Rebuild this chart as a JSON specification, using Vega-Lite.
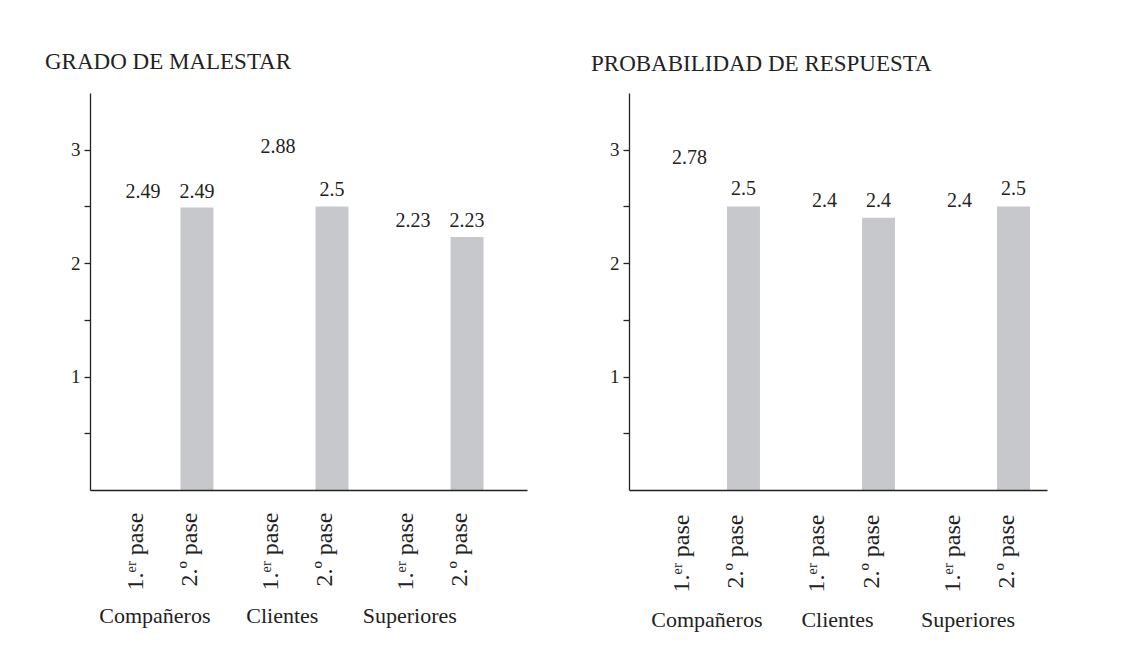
{
  "$schema": "https://vega.github.io/schema/vega-lite/v6.json",
  "background": "white",
  "padding": {"left": 45, "top": 51, "right": 5, "bottom": 5},
  "autosize": {"type": "pad"},
  "datasets": {
    "malestar": [
      {"grupo": "Compañeros", "pase": "1.ᵉʳ pase", "valor": 2.49},
      {"grupo": "Compañeros", "pase": "2.º pase", "valor": 2.49},
      {"grupo": "Clientes", "pase": "1.ᵉʳ pase", "valor": 2.88},
      {"grupo": "Clientes", "pase": "2.º pase", "valor": 2.5},
      {"grupo": "Superiores", "pase": "1.ᵉʳ pase", "valor": 2.23},
      {"grupo": "Superiores", "pase": "2.º pase", "valor": 2.23}
    ],
    "respuesta": [
      {"grupo": "Compañeros", "pase": "1.ᵉʳ pase", "valor": 2.78},
      {"grupo": "Compañeros", "pase": "2.º pase", "valor": 2.5},
      {"grupo": "Clientes", "pase": "1.ᵉʳ pase", "valor": 2.4},
      {"grupo": "Clientes", "pase": "2.º pase", "valor": 2.4},
      {"grupo": "Superiores", "pase": "1.ᵉʳ pase", "valor": 2.4},
      {"grupo": "Superiores", "pase": "2.º pase", "valor": 2.5}
    ]
  },
  "config": {
    "font": "Liberation Serif",
    "view": {"stroke": null},
    "axis": {"domainColor": "#222222", "tickColor": "#222222", "labelColor": "#222222", "labelFont": "Liberation Serif", "grid": false, "domainWidth": 1.3, "tickWidth": 1.3},
    "title": {"font": "Liberation Serif", "fontWeight": "normal", "fontSize": 23, "color": "#222222", "anchor": "start", "frame": "group"},
    "text": {"font": "Liberation Serif", "color": "#222222"}
  },
  "spacing": 64,
  "hconcat": [
    {
      "title": {"text": "GRADO DE MALESTAR", "dx": -45, "offset": 19},
      "width": 437,
      "height": 397,
      "data": {"name": "malestar"},
      "transform": [{"calculate": "datum.grupo + '|' + datum.pase", "as": "clave"}],
      "resolve": {"scale": {"x": "independent"}, "axis": {"x": "independent"}},
      "layer": [
        {
          "encoding": {
            "x": {
              "field": "clave", "type": "nominal", "sort": null,
              "scale": {
                "type": "band",
                "domain": ["_a", "Compañeros|1.ᵉʳ pase", "_1", "Compañeros|2.º pase", "_2", "_3", "Clientes|1.ᵉʳ pase", "_4", "Clientes|2.º pase", "_5", "_6", "Superiores|1.ᵉʳ pase", "_7", "Superiores|2.º pase", "_b"],
                "paddingInner": 0, "paddingOuter": 0.59, "align": 0.39
              },
              "axis": {"title": null, "ticks": false, "labelAngle": 270, "labelPadding": 22, "labelFontSize": 24, "labelOffset": -7, "zindex": 1,
                "labelExpr": "indexof(datum.value, '|') > 0 ? split(datum.value, '|')[1] : ''"}
            },
            "y": {
              "field": "valor", "type": "quantitative",
              "scale": {"domain": [0, 3.5], "nice": false},
              "axis": {"title": null, "values": [0.5, 1, 1.5, 2, 2.5, 3], "labelExpr": "datum.value % 1 === 0 ? format(datum.value, 'd') : ''", "tickSize": 6, "labelPadding": 4, "labelFontSize": 19, "zindex": 1}
            }
          },
          "layer": [
            {
              "mark": {"type": "bar", "width": {"band": 1.22}},
              "encoding": {"color": {"field": "pase", "type": "nominal", "scale": {"domain": ["1.ᵉʳ pase", "2.º pase"], "range": ["#ffffff", "#c6c8cc"]}, "legend": null}}
            },
            {
              "mark": {"type": "text", "baseline": "alphabetic", "dy": -10, "fontSize": 20},
              "encoding": {"text": {"field": "valor", "type": "quantitative"}}
            }
          ]
        },
        {
          "mark": {"type": "text", "opacity": 0},
          "encoding": {
            "x": {
              "field": "grupo", "type": "nominal", "sort": ["Compañeros", "Clientes", "Superiores"],
              "scale": {"type": "band", "paddingInner": 0, "paddingOuter": 0.214, "align": 0.02},
              "axis": {"orient": "bottom", "title": null, "ticks": false, "domain": false, "labelAngle": 0, "labelFontSize": 22, "offset": 115, "labelPadding": 0}
            },
            "y": {"field": "valor", "type": "quantitative"},
            "text": {"value": "x"}
          }
        }
      ]
    },
    {
      "title": {"text": "PROBABILIDAD DE RESPUESTA", "dx": -38, "offset": 17},
      "width": 418,
      "height": 397,
      "data": {"name": "respuesta"},
      "transform": [{"calculate": "datum.grupo + '|' + datum.pase", "as": "clave"}],
      "resolve": {"scale": {"x": "independent"}, "axis": {"x": "independent"}},
      "layer": [
        {
          "encoding": {
            "x": {
              "field": "clave", "type": "nominal", "sort": null,
              "scale": {
                "type": "band",
                "domain": ["_a", "Compañeros|1.ᵉʳ pase", "_1", "Compañeros|2.º pase", "_2", "_3", "Clientes|1.ᵉʳ pase", "_4", "Clientes|2.º pase", "_5", "_6", "Superiores|1.ᵉʳ pase", "_7", "Superiores|2.º pase"],
                "paddingInner": 0, "paddingOuter": 0.74, "align": 0.5
              },
              "axis": {"title": null, "ticks": false, "labelAngle": 270, "labelPadding": 24, "labelFontSize": 24, "labelOffset": -7, "zindex": 1,
                "labelExpr": "indexof(datum.value, '|') > 0 ? split(datum.value, '|')[1] : ''"}
            },
            "y": {
              "field": "valor", "type": "quantitative",
              "scale": {"domain": [0, 3.5], "nice": false},
              "axis": {"title": null, "values": [0.5, 1, 1.5, 2, 2.5, 3], "labelExpr": "datum.value % 1 === 0 ? format(datum.value, 'd') : ''", "tickSize": 6, "labelPadding": 4, "labelFontSize": 19, "zindex": 1}
            }
          },
          "layer": [
            {
              "mark": {"type": "bar", "width": {"band": 1.22}},
              "encoding": {"color": {"field": "pase", "type": "nominal", "scale": {"domain": ["1.ᵉʳ pase", "2.º pase"], "range": ["#ffffff", "#c6c8cc"]}, "legend": null}}
            },
            {
              "mark": {"type": "text", "baseline": "alphabetic", "dy": -11, "fontSize": 20},
              "encoding": {"text": {"field": "valor", "type": "quantitative"}}
            }
          ]
        },
        {
          "mark": {"type": "text", "opacity": 0},
          "encoding": {
            "x": {
              "field": "grupo", "type": "nominal", "sort": ["Compañeros", "Clientes", "Superiores"],
              "scale": {"type": "band", "paddingInner": 0, "paddingOuter": 0.1, "align": 0.48},
              "axis": {"orient": "bottom", "title": null, "ticks": false, "domain": false, "labelAngle": 0, "labelFontSize": 22, "offset": 119, "labelPadding": 0}
            },
            "y": {"field": "valor", "type": "quantitative"},
            "text": {"value": "x"}
          }
        }
      ]
    }
  ]
}
